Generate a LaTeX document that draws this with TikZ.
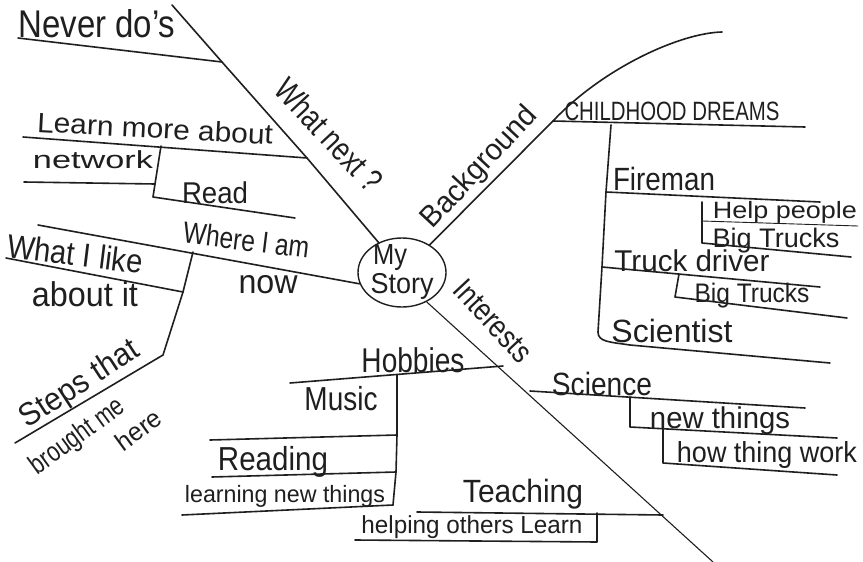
\documentclass[tikz,border=0pt]{standalone}
\usepackage{fontspec}
\setmainfont{Liberation Sans}
\usetikzlibrary{shapes.geometric}

% set a label to a given width and total height (in pt)
\newcommand\handtext[3]{\resizebox*{#1pt}{#2pt}{\vphantom{Ag}#3}}

\tikzset{
  ink/.style={line width=1.6pt, line cap=round, line join=round, draw=black!88},
  fineink/.style={line width=0.9pt, line cap=round, line join=round, draw=black!88},
  lbl/.style={inner sep=0pt, outer sep=0pt, text=black!88},
  hub/.style={ellipse, draw=black!88, line width=1.4pt, minimum width=88pt, minimum height=69pt, inner sep=0pt},
}

\begin{document}
\begin{tikzpicture}[x=1pt,y=-1pt]
\useasboundingbox[fill=white] (0,0) rectangle (863,562);

% central topic
\node[hub] (story) at (402,272.5) {};
\node[lbl] (my) at (390,258) {\handtext{34}{26}{My}};
\node[lbl] (storytxt) at (402,286) {\handtext{63}{26}{Story}};

% ---------- What next ? ----------
\coordinate (wnTop) at (172,5);
\coordinate (jNever) at (222,62);
\coordinate (jLearn) at (307,158);
\coordinate (wnEnd) at (story.128);
\draw[ink] (wnTop) -- (jNever) -- (jLearn) -- (wnEnd);
\node[lbl, rotate=-47] (whatnext) at (327,137) {\handtext{140}{31}{What next ?}};

\coordinate (neverL) at (18,38);
\draw[ink] (neverL) -- (jNever);
\node[lbl] (never) at (97,28) {\handtext{157}{36}{Never do's}};

\coordinate (learnL) at (23,137);
\draw[ink] (learnL) -- (jLearn);
\node[lbl, rotate=-3] (learn) at (155,131) {\handtext{236}{26}{Learn more about}};

\coordinate (jNetTop) at (161,146);
\coordinate (jNet) at (155,184);
\coordinate (jRead) at (153,197);
\coordinate (netL) at (24,182);
\coordinate (readR) at (295,218);
\draw[ink] (jNetTop) -- (jNet) -- (jRead) -- (readR);
\draw[ink] (netL) -- (jNet);
\node[lbl] (network) at (93,162) {\handtext{120}{23}{network}};
\node[lbl] (read) at (215,196) {\handtext{66}{28}{Read}};

% ---------- Where I am now ----------
\coordinate (wiaL) at (38,225);
\coordinate (wiaEnd) at (story.195);
\coordinate (jWia) at (193,252);
\coordinate (jLike) at (183,292);
\coordinate (jSteps) at (163,355);
\coordinate (stepsL) at (15,443);
\coordinate (likeL) at (6,258);
\draw[ink] (wiaL) -- (wiaEnd);
\draw[ink] (jWia) -- (jLike) -- (jSteps) -- (stepsL);
\draw[ink] (likeL) -- (jLike);
\node[lbl, rotate=-7] (wia) at (246,243) {\handtext{127}{28}{Where I am}};
\node[lbl] (now) at (268,285) {\handtext{59}{30}{now}};
\node[lbl, rotate=-7] (like) at (75,257) {\handtext{136}{31}{What I like}};
\node[lbl] (aboutit) at (85,298) {\handtext{106}{32}{about it}};
\node[lbl, rotate=33] (steps) at (80,385) {\handtext{135}{30}{Steps that}};
\node[lbl, rotate=36] (brought) at (78,437) {\handtext{110}{26}{brought me}};
\node[lbl, rotate=36] (here) at (140,432) {\handtext{50}{24}{here}};

% ---------- Background ----------
\coordinate (bgStart) at (story.45);
\coordinate (jChild) at (553,121);
\coordinate (bgEnd) at (722,32);
\draw[ink] (bgStart) -- (jChild) .. controls (603,68) and (680,33) .. (bgEnd);
\node[lbl, rotate=47] (background) at (480,168) {\handtext{155}{28}{Background}};

\coordinate (childR) at (805,127);
\draw[ink] (jChild) -- (childR);
\node[lbl] (child) at (672,114) {\handtext{215}{24}{CHILDHOOD DREAMS}};

\coordinate (jDreams) at (611,125);
\coordinate (jFire) at (606,192);
\coordinate (jTruck) at (602,267);
\coordinate (jSci) at (598,332);
\coordinate (sciR) at (830,363);
\draw[ink] (jDreams) -- (jFire) -- (jTruck) -- (jSci)
  .. controls (598,342) and (610,342) .. (630,345) -- (sciR);

\coordinate (fireR) at (820,202);
\draw[ink] (jFire) -- (fireR);
\node[lbl] (fireman) at (664,182) {\handtext{102}{30}{Fireman}};

\coordinate (jHelpTop) at (702,202);
\coordinate (jHelp) at (702,221);
\coordinate (jBig) at (702,243);
\coordinate (helpR) at (858,226);
\coordinate (bigR) at (851,257);
\draw[ink] (jHelpTop) -- (jHelp) -- (jBig) -- (bigR);
\draw[fineink] (jHelp) -- (helpR);
\node[lbl] (help) at (785,212) {\handtext{144}{22}{Help people}};
\node[lbl] (bigone) at (776,241) {\handtext{127}{25}{Big Trucks}};

\coordinate (truckR) at (820,287);
\draw[ink] (jTruck) -- (truckR);
\node[lbl] (truck) at (692,264) {\handtext{155}{28}{Truck driver}};

\coordinate (jBigTwoTop) at (679,274);
\coordinate (jBigTwo) at (675,297);
\coordinate (bigTwoR) at (847,318);
\draw[ink] (jBigTwoTop) -- (jBigTwo) -- (bigTwoR);
\node[lbl] (bigtwo) at (752,296) {\handtext{115}{25}{Big Trucks}};

\node[lbl] (scientist) at (672,334) {\handtext{121}{30}{Scientist}};

% ---------- Interests ----------
\coordinate (intS) at (story.-50);
\coordinate (intE) at (713,562);
\draw[fineink, line width=1.1pt] (intS) -- (intE);
\node[lbl, rotate=-47] (interests) at (491,323) {\handtext{100}{28}{Interests}};

\coordinate (jHob) at (503,366);
\coordinate (hobL) at (290,383);
\draw[ink] (hobL) -- (jHob);
\node[lbl] (hobbies) at (413,364) {\handtext{103}{32}{Hobbies}};

\coordinate (jHobV) at (397,375);
\coordinate (jMusic) at (397,435);
\coordinate (jReading) at (396,472);
\coordinate (jLearning) at (393,505);
\draw[ink] (jHobV) -- (jMusic) -- (jReading) -- (jLearning);
\coordinate (musicL) at (210,440);
\coordinate (readingL) at (212,477);
\coordinate (learningL) at (182,515);
\draw[ink] (musicL) -- (jMusic);
\draw[ink] (readingL) -- (jReading);
\draw[ink] (learningL) -- (jLearning);
\node[lbl] (music) at (341,402) {\handtext{73}{31}{Music}};
\node[lbl] (reading) at (273,462) {\handtext{110}{31}{Reading}};
\node[lbl] (learning) at (285,496) {\handtext{200}{22}{learning new things}};

\coordinate (jTeach) at (663,515);
\coordinate (teachL) at (417,512);
\draw[ink] (teachL) -- (jTeach);
\node[lbl] (teaching) at (523,494) {\handtext{120}{30}{Teaching}};

\coordinate (jHelpingTop) at (597,513);
\coordinate (jHelping) at (597,542);
\coordinate (helpingL) at (355,540);
\draw[ink] (jHelpingTop) -- (jHelping) -- (helpingL);
\node[lbl] (helping) at (472,527) {\handtext{221}{23}{helping others Learn}};

\coordinate (jScience) at (530,391);
\coordinate (scienceR) at (805,408);
\draw[ink] (jScience) -- (scienceR);
\node[lbl] (science) at (602,387) {\handtext{100}{30}{Science}};

\coordinate (jNewTop) at (630,397);
\coordinate (jNew) at (630,427);
\coordinate (newR) at (837,438);
\draw[ink] (jNewTop) -- (jNew) -- (newR);
\node[lbl] (newthings) at (720,421) {\handtext{140}{28}{new things}};

\coordinate (jHowTop) at (663,429);
\coordinate (jHow) at (663,463);
\coordinate (howR) at (837,475);
\draw[ink] (jHowTop) -- (jHow) -- (howR);
\node[lbl] (how) at (767,455) {\handtext{180}{27}{how thing work}};

\end{tikzpicture}
\end{document}
